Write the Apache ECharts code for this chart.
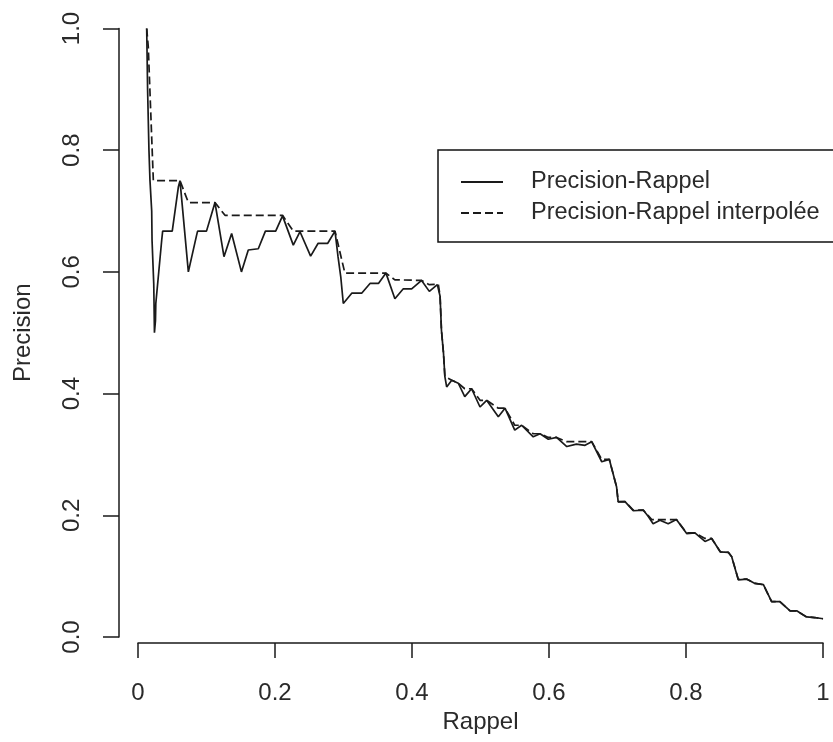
<!DOCTYPE html>
<html>
<head>
<meta charset="utf-8">
<script src="https://cdn.jsdelivr.net/npm/echarts@6/dist/echarts.min.js"></script>
<style>
html,body{margin:0;padding:0;background:#fff;}
#chart{width:833px;height:742px;}
</style>
</head>
<body>
<div id="chart"></div>
<script>
// ---- Data ----
const recallPR = [0.0127,0.0140,0.0160,0.0175,0.0200,0.0205,0.0230,0.0240,0.0255,0.0260,0.0346,0.0360,0.0500,0.0590,0.0613,0.0735,0.0855,0.0870,0.1000,0.1124,0.1255,0.1367,0.1510,0.1610,0.1756,0.1860,0.2010,0.2110,0.2267,0.2365,0.2520,0.2630,0.2770,0.2876,0.2920,0.2960,0.2997,0.3120,0.3265,0.3387,0.3510,0.3620,0.3750,0.3870,0.3995,0.4140,0.4253,0.4370,0.4384,0.4410,0.4430,0.4460,0.4480,0.4506,0.4580,0.4676,0.4770,0.4870,0.4993,0.5090,0.5260,0.5358,0.5500,0.5600,0.5770,0.5870,0.5990,0.6110,0.6260,0.6400,0.6526,0.6623,0.6770,0.6880,0.6986,0.7010,0.7110,0.7230,0.7375,0.7450,0.7520,0.7620,0.7740,0.7860,0.8010,0.8130,0.8277,0.8375,0.8500,0.8620,0.8667,0.8763,0.8890,0.9007,0.9130,0.9250,0.9370,0.9520,0.9616,0.9760,0.9880,1.0000];
const precisionPR = [1.000,0.900,0.800,0.750,0.700,0.652,0.580,0.500,0.520,0.548,0.652,0.667,0.667,0.740,0.750,0.600,0.660,0.667,0.667,0.714,0.625,0.663,0.600,0.636,0.638,0.667,0.667,0.692,0.644,0.666,0.626,0.647,0.647,0.667,0.625,0.592,0.548,0.565,0.565,0.581,0.581,0.598,0.556,0.572,0.572,0.586,0.568,0.579,0.580,0.560,0.504,0.466,0.428,0.411,0.422,0.417,0.395,0.408,0.378,0.389,0.362,0.376,0.340,0.348,0.329,0.334,0.325,0.328,0.313,0.317,0.315,0.321,0.288,0.292,0.247,0.222,0.2225,0.2075,0.2086,0.198,0.186,0.192,0.186,0.193,0.170,0.171,0.157,0.162,0.140,0.139,0.132,0.094,0.095,0.088,0.086,0.058,0.058,0.043,0.043,0.033,0.032,0.030];

const recallInterp = [0.0127,0.0150,0.0180,0.0224,0.0613,0.0735,0.1124,0.1270,0.2110,0.2267,0.2876,0.3020,0.3620,0.3750,0.4140,0.4253,0.4384,0.4410,0.4430,0.4460,0.4480,0.4580,0.4676,0.4770,0.4870,0.4993,0.5090,0.5260,0.5358,0.5500,0.5600,0.5770,0.5870,0.5990,0.6110,0.6260,0.6623,0.6770,0.6880,0.6986,0.7010,0.7110,0.7230,0.7375,0.7500,0.7860,0.8010,0.8130,0.8277,0.8375,0.8500,0.8620,0.8667,0.8763,0.8890,0.9007,0.9130,0.9250,0.9370,0.9520,0.9616,0.9760,0.9880,1.0000];
const precisionInterp = [1.000,0.970,0.880,0.750,0.750,0.714,0.714,0.693,0.693,0.667,0.667,0.598,0.598,0.587,0.586,0.579,0.580,0.560,0.504,0.466,0.428,0.422,0.417,0.408,0.408,0.389,0.389,0.376,0.376,0.348,0.348,0.334,0.334,0.328,0.328,0.321,0.321,0.292,0.292,0.247,0.2225,0.2225,0.2086,0.2086,0.193,0.193,0.171,0.171,0.162,0.162,0.140,0.139,0.132,0.095,0.095,0.088,0.086,0.058,0.058,0.043,0.043,0.033,0.032,0.030];

const xTickLabels = ['0','0.2','0.4','0.6','0.8','1'];
const yTickLabels = ['0.0','0.2','0.4','0.6','0.8','1.0'];
const seriesNames = ['Precision-Rappel','Precision-Rappel interpolée'];
const xTitle = 'Rappel';
const yTitle = 'Precision';

// ---- Chart ----
const FONT = "'Liberation Sans', Arial, sans-serif";
const INK = '#1a1a1a';
const pairs = (xs, ys) => xs.map((x, i) => [x, ys[i]]);

const chart = echarts.init(document.getElementById('chart'), null, {renderer: 'canvas'});
chart.setOption({
  backgroundColor: '#ffffff',
  animation: false,
  grid: {left: 138, top: 28.5, width: 685, height: 608.5, containLabel: false, outerBoundsMode: 'none'},
  legend: {
    orient: 'vertical',
    left: 438, top: 150,
    padding: [19, 70, 16, 22],
    borderColor: '#111', borderWidth: 1.5,
    itemWidth: 42, itemHeight: 20, itemGap: 5,
    selectedMode: false,
    itemStyle: {opacity: 0},
    textStyle: {fontFamily: FONT, fontSize: 23.5, color: '#2a2a2a', lineHeight: 26, padding: [0, 0, 0, 23]},
    data: seriesNames
  },
  xAxis: {
    type: 'value', min: 0, max: 1, interval: 0.2,
    position: 'bottom', offset: 6,
    name: xTitle, nameLocation: 'middle', nameGap: 66,
    nameTextStyle: {fontFamily: FONT, fontSize: 24, color: '#2a2a2a'},
    axisLine: {show: true, onZero: false, lineStyle: {color: INK, width: 1.5}},
    axisTick: {show: true, inside: false, length: 15, lineStyle: {color: INK, width: 1.5}},
    axisLabel: {margin: 38, fontFamily: FONT, fontSize: 24, color: '#2a2a2a',
      formatter: v => xTickLabels[Math.round(v / 0.2)]},
    splitLine: {show: false}
  },
  yAxis: {
    type: 'value', min: 0, max: 1, interval: 0.2,
    position: 'left', offset: 19,
    name: yTitle, nameLocation: 'middle', nameGap: 84, nameRotate: 90,
    nameTextStyle: {fontFamily: FONT, fontSize: 24, color: '#2a2a2a'},
    axisLine: {show: true, onZero: false, lineStyle: {color: INK, width: 1.5}},
    axisTick: {show: true, inside: false, length: 16, lineStyle: {color: INK, width: 1.5}},
    axisLabel: {margin: 35, rotate: 90, fontFamily: FONT, fontSize: 24, color: '#2a2a2a',
      formatter: v => yTickLabels[Math.round(v / 0.2)]},
    splitLine: {show: false}
  },
  series: [
    {
      name: seriesNames[0], type: 'line', data: pairs(recallPR, precisionPR),
      symbol: 'none', showSymbol: false, clip: false,
      lineStyle: {color: INK, width: 1.7, type: 'solid'},
      itemStyle: {color: INK}
    },
    {
      name: seriesNames[1], type: 'line', data: pairs(recallInterp, precisionInterp),
      symbol: 'none', showSymbol: false, clip: false,
      lineStyle: {color: INK, width: 1.7, type: [8, 4]},
      itemStyle: {color: INK}
    }
  ]
});
</script>
</body>
</html>
